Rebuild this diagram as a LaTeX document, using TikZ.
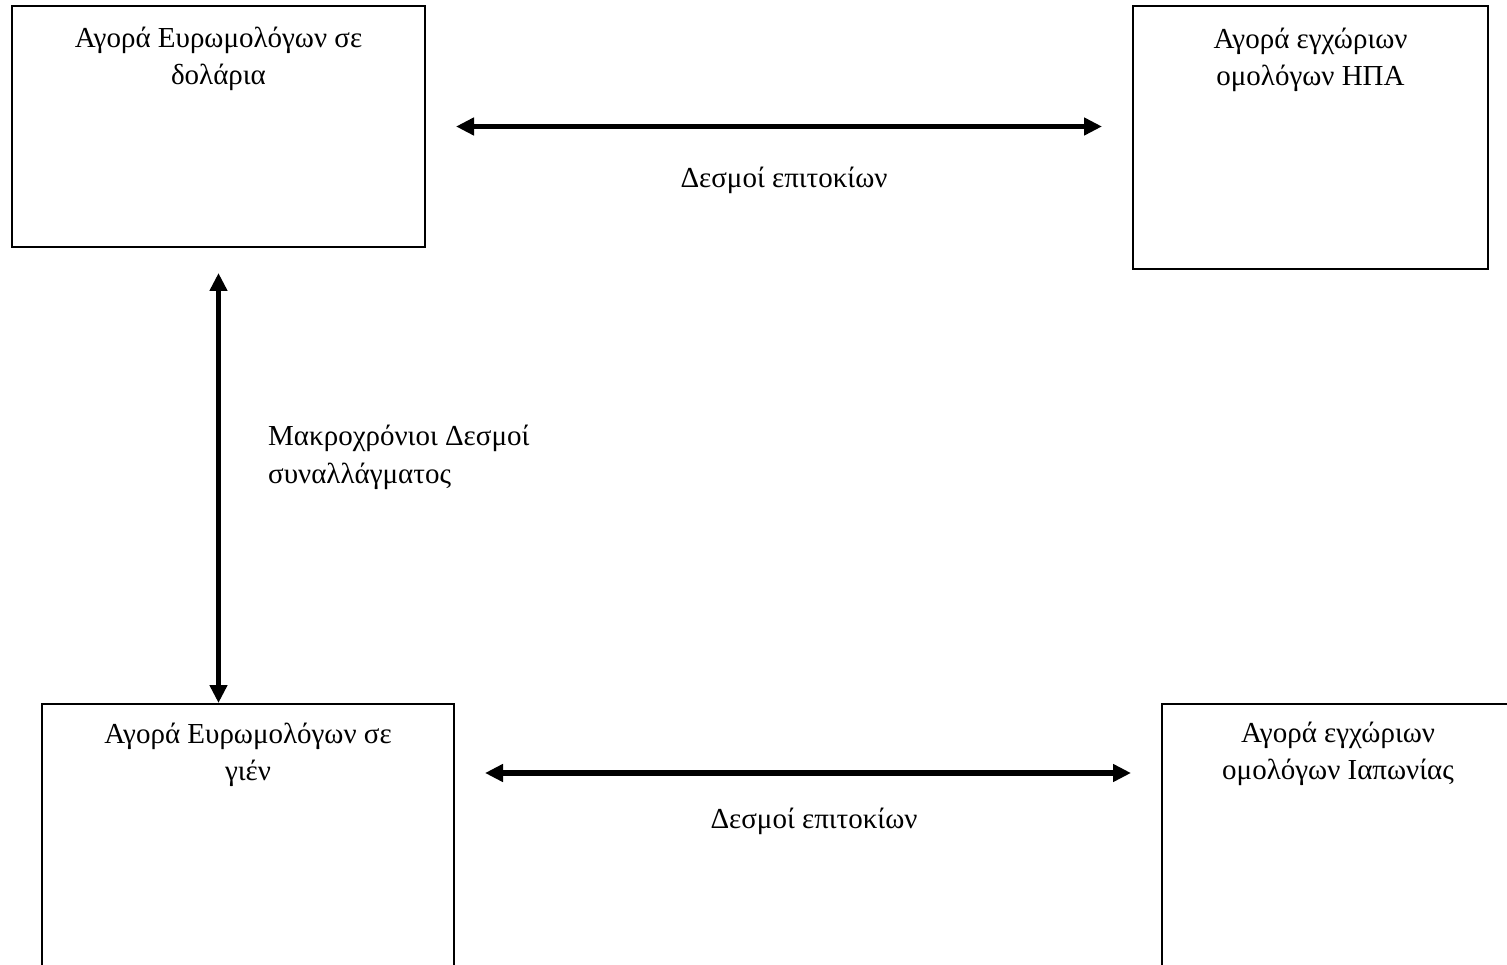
\documentclass[tikz,border=0pt]{standalone}
\usepackage{fontspec}
\setmainfont{Liberation Serif}
\usetikzlibrary{arrows.meta,calc}
\begin{document}
\begin{tikzpicture}[x=1pt,y=-1pt,
  box/.style={draw, line width=2pt, rectangle, inner sep=0pt},
  boxtext/.style={align=center, anchor=base, inner sep=0pt, font=\fontsize{29}{37}\selectfont},
  lbl/.style={inner sep=0pt, anchor=base, font=\fontsize{29}{38}\selectfont},
  dblarrow/.style={line width=5.5pt, {Triangle[length=18pt,width=17pt]}-{Triangle[length=18pt,width=17pt]}}
]
\useasboundingbox[fill=white] (0,0) rectangle (1507,965);
% boxes
\node[box, minimum width=413pt, minimum height=241pt] (tl) at (218.5,126.5) {};
\node[box, minimum width=355pt, minimum height=263pt] (tr) at (1310.5,137.5) {};
\node[box, minimum width=412pt, minimum height=296pt] (bl) at (248,852) {};
\node[box, minimum width=352pt, minimum height=296pt] (br) at (1338,852) {};
% box texts (base anchor = baseline of the last line)
\node[boxtext] (tltxt) at (218.5,85) {Αγορά Ευρωμολόγων σε\\δολάρια};
\node[boxtext] (trtxt) at (1310.5,86) {Αγορά εγχώριων\\ομολόγων ΗΠΑ};
\node[boxtext] (bltxt) at (248,780) {Αγορά Ευρωμολόγων σε\\γιέν};
\node[boxtext] (brtxt) at (1338,779) {Αγορά εγχώριων\\ομολόγων Ιαπωνίας};
% connectors
\draw[dblarrow, shorten <=30pt, shorten >=30pt] (tl.east) -- (tl.east -| tr.west);
\draw[dblarrow, shorten <=30pt, shorten >=30pt] ($(bl.north east)+(0,70)$) -- ($(br.north west)+(0,70)$);
\draw[dblarrow, shorten <=25pt] (tl.south) -- (tl.south |- bl.north);
% labels
\node[lbl] (l1) at (784,188) {Δεσμοί επιτοκίων};
\node[lbl] (l2) at (814,828) {Δεσμοί επιτοκίων};
\node[lbl, anchor=base west, align=left] (l3) at (268,483) {Μακροχρόνιοι Δεσμοί\\συναλλάγματος};
\end{tikzpicture}
\end{document}
